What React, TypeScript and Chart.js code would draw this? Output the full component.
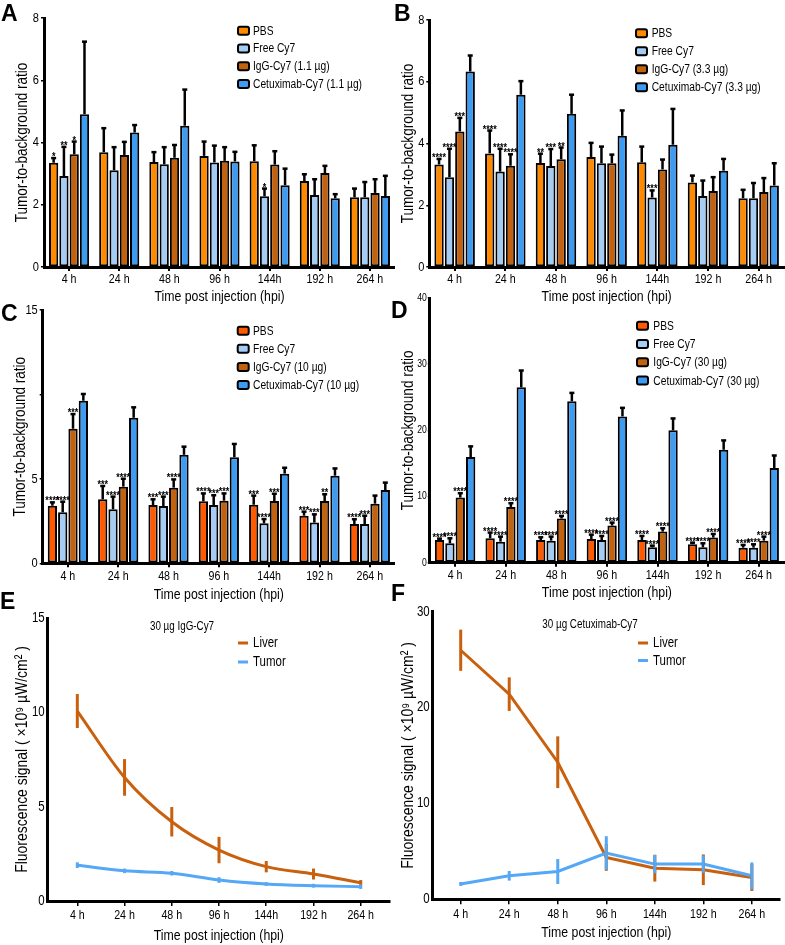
import React, { useEffect, useRef } from "react";
import { Chart, registerables } from "chart.js";

Chart.register(...registerables);

const FONT = "'Liberation Sans', Arial, sans-serif";
const TEXT_SX = 0.82; // horizontal condensing of all chart text (narrow-face look)

// ---------- shared labels ----------
const timeLabels = ["4 h", "24 h", "48 h", "96 h", "144h", "192 h", "264 h"];
const xTitle = "Time post injection (hpi)";
const barYTitle = "Tumor-to-background ratio";
const lineYTitle = "Fluorescence signal ( ×10⁹ µW/cm² )";

// ---------- Panel A (1.1 µg) ----------
const aNames = ["PBS", "Free Cy7", "IgG-Cy7 (1.1 µg)", "Cetuximab-Cy7 (1.1 µg)"];
const aPBS = [3.35, 3.69, 3.37, 3.57, 3.4, 2.76, 2.24];
const aPBSErr = [0.15, 0.77, 0.32, 0.46, 0.51, 0.22, 0.28];
const aFree = [2.92, 3.11, 3.3, 3.36, 2.27, 2.31, 2.24];
const aFreeErr = [0.94, 0.74, 0.55, 0.54, 0.25, 0.51, 0.49];
const aIgG = [3.62, 3.6, 3.51, 3.41, 3.29, 3.02, 2.38];
const aIgGErr = [0.41, 0.42, 0.41, 0.44, 0.43, 0.23, 0.44];
const aCet = [4.91, 4.32, 4.54, 3.39, 2.63, 2.21, 2.28];
const aCetErr = [2.33, 0.24, 1.16, 0.31, 0.53, 0.13, 0.65];
const aPBSStars = ["*", "", "", "", "", "", ""];
const aFreeStars = ["**", "", "", "", "*", "", ""];
const aIgGStars = ["*", "", "", "", "", "", ""];
const aYTicks = [0, 2, 4, 6, 8];

// ---------- Panel B (3.3 µg) ----------
const bNames = ["PBS", "Free Cy7", "IgG-Cy7 (3.3 µg)", "Cetuximab-Cy7 (3.3 µg)"];
const bPBS = [3.32, 3.68, 3.37, 3.56, 3.39, 2.74, 2.23];
const bPBSErr = [0.18, 0.74, 0.3, 0.46, 0.51, 0.22, 0.27];
const bFree = [2.91, 3.09, 3.27, 3.36, 2.25, 2.3, 2.23];
const bFreeErr = [0.92, 0.74, 0.55, 0.54, 0.23, 0.5, 0.49];
const bIgG = [4.39, 3.28, 3.49, 3.36, 3.16, 2.46, 2.43];
const bIgGErr = [0.44, 0.37, 0.38, 0.28, 0.32, 0.45, 0.45];
const bCet = [6.33, 5.58, 4.96, 4.25, 3.96, 3.12, 2.64];
const bCetErr = [0.52, 0.44, 0.62, 0.82, 1.16, 0.38, 0.72];
const bPBSStars = ["****", "****", "**", "", "", "", ""];
const bFreeStars = ["****", "****", "***", "", "***", "", ""];
const bIgGStars = ["***", "****", "**", "", "", "", ""];
const bYTicks = [0, 2, 4, 6, 8];

// ---------- Panel C (10 µg) ----------
const cNames = ["PBS", "Free Cy7", "IgG-Cy7 (10 µg)", "Cetuximab-Cy7 (10 µg)"];
const cPBS = [3.41, 3.79, 3.45, 3.67, 3.47, 2.82, 2.33];
const cPBSErr = [0.2, 0.79, 0.34, 0.47, 0.54, 0.24, 0.28];
const cFree = [3.02, 3.2, 3.39, 3.45, 2.37, 2.41, 2.33];
const cFreeErr = [0.63, 0.75, 0.56, 0.58, 0.25, 0.49, 0.49];
const cIgG = [7.97, 4.54, 4.48, 3.71, 3.69, 3.69, 3.53];
const cIgGErr = [0.87, 0.47, 0.49, 0.43, 0.43, 0.4, 0.48];
const cCet = [9.63, 8.62, 6.43, 6.28, 5.31, 5.19, 4.34];
const cCetErr = [0.4, 0.62, 0.48, 0.79, 0.35, 0.43, 0.44];
const cPBSStars = ["****", "***", "***", "****", "***", "***", "****"];
const cFreeStars = ["****", "****", "***", "***", "****", "***", "***"];
const cIgGStars = ["***", "****", "****", "***", "***", "**", ""];
const cYTicks = [0, 5, 10, 15];
const cYTickLabels = ["0", "5", "", "15"];

// ---------- Panel D (30 µg) ----------
const dNames = ["PBS", "Free Cy7", "IgG-Cy7 (30 µg)", "Cetuximab-Cy7 (30 µg)"];
const dPBS = [3.43, 3.69, 3.43, 3.59, 3.43, 2.78, 2.27];
const dPBSErr = [0.21, 0.86, 0.41, 0.65, 0.61, 0.25, 0.41];
const dFree = [2.93, 3.18, 3.33, 3.43, 2.32, 2.32, 2.27];
const dFreeErr = [0.76, 0.76, 0.61, 0.61, 0.26, 0.61, 0.51];
const dIgG = [9.85, 8.43, 6.67, 5.61, 4.7, 3.79, 3.33];
const dIgGErr = [0.65, 0.56, 0.4, 0.45, 0.5, 0.55, 0.61];
const dCet = [15.96, 26.5, 24.4, 22.1, 20.0, 17.07, 14.3];
const dCetErr = [1.62, 2.54, 1.26, 1.3, 1.8, 1.41, 1.9];
const dPBSStars = ["****", "****", "****", "****", "****", "****", "****"];
const dFreeStars = ["****", "****", "****", "****", "****", "****", "****"];
const dIgGStars = ["****", "****", "****", "****", "****", "****", "****"];
const dYTicks = [0, 10, 20, 30, 40];

// ---------- Panel E (30 µg IgG-Cy7) ----------
const eTitle = "30 µg IgG-Cy7";
const eLiver = [10.07, 6.55, 4.2, 2.7, 1.82, 1.43, 0.97];
const eLiverErr = [0.9, 0.97, 0.78, 0.7, 0.3, 0.29, 0.14];
const eTumor = [1.9, 1.6, 1.47, 1.11, 0.9, 0.81, 0.76];
const eTumorErr = [0.15, 0.12, 0.12, 0.15, 0.1, 0.1, 0.12];
const eYTicks = [0, 5, 10, 15];

// ---------- Panel F (30 µg Cetuximab-Cy7) ----------
const fTitle = "30 µg Cetuximab-Cy7";
const fLiver = [25.98, 21.4, 14.3, 4.37, 3.25, 3.08, 2.27];
const fLiverErr = [2.15, 1.75, 2.7, 1.4, 1.4, 1.6, 1.4];
const fTumor = [1.6, 2.45, 2.9, 4.83, 3.67, 3.67, 2.45];
const fTumorErr = [0.2, 0.5, 1.3, 1.75, 0.95, 0.9, 1.4];
const fYTicks = [0, 10, 20, 30];

const lineNames = ["Liver", "Tumor"];

// ---------- colours ----------
const COL_PBS_AB = "#FF8A00";
const COL_PBS_CD = "#FF5A00";
const COL_FREE = "#A4CCF4";
const COL_IGG = "#C2620E";
const COL_CET = "#3E9BF2";
const COL_LIVER = "#C8600E";
const COL_TUMOR = "#55A8F5";

// ---------- plugin: error bars, stars, legend, subtitle ----------
const decorPlugin = {
  id: "decor",
  afterDatasetsDraw(chart: any) {
    const ctx = chart.ctx;
    const yScale = chart.scales.y;
    chart.data.datasets.forEach((ds: any, di: number) => {
      if (!ds.errors) return;
      const meta = chart.getDatasetMeta(di);
      ctx.save();
      ctx.strokeStyle = ds.errorColor || "#000";
      ctx.lineWidth = ds.errorWidth || 2.5;
      ctx.lineCap = "butt";
      meta.data.forEach((el: any, i: number) => {
        const raw = ds.data[i];
        const v = typeof raw === "number" ? raw : raw.y;
        const e = ds.errors[i];
        const x = el.x;
        const yTop = yScale.getPixelForValue(v + e);
        const yBase = ds.errorBoth ? yScale.getPixelForValue(v - e) : el.y;
        ctx.beginPath();
        ctx.moveTo(x, yBase);
        ctx.lineTo(x, yTop);
        ctx.stroke();
        if (ds.errorCap) {
          ctx.beginPath();
          ctx.moveTo(x - ds.errorCap, yTop);
          ctx.lineTo(x + ds.errorCap, yTop);
          ctx.stroke();
        }
        if (ds.stars && ds.stars[i]) {
          ctx.fillStyle = "#000";
          ctx.font = `bold 11px ${FONT}`;
          ctx.textAlign = "center";
          ctx.textBaseline = "alphabetic";
          ctx.fillText(ds.stars[i], x, yTop + 2);
        }
      });
      ctx.restore();
    });
  },
  afterDraw(chart: any) {
    const o = chart.options.plugins.decor || {};
    const ctx = chart.ctx;
    ctx.save();
    if (o.legend) {
      const L = o.legend;
      ctx.font = `${L.size}px ${FONT}`;
      ctx.textAlign = "left";
      ctx.textBaseline = "middle";
      chart.data.datasets.forEach((ds: any, i: number) => {
        const yy = L.y + i * L.dy;
        if (L.kind === "box") {
          ctx.fillStyle = ds.backgroundColor;
          ctx.strokeStyle = "#000";
          ctx.lineWidth = 2;
          ctx.beginPath();
          ctx.roundRect(L.x + 1, yy - 4, 11, 8, 2);
          ctx.fill();
          ctx.stroke();
        } else {
          ctx.strokeStyle = ds.borderColor;
          ctx.lineWidth = 3;
          ctx.beginPath();
          ctx.moveTo(L.x, yy);
          ctx.lineTo(L.x + 10, yy);
          ctx.stroke();
        }
        ctx.fillStyle = "#000";
        ctx.fillText(ds.label, L.tx, yy + 0.5);
      });
    }
    if (o.subtitle) {
      const S = o.subtitle;
      ctx.font = `${S.size}px ${FONT}`;
      ctx.fillStyle = "#000";
      ctx.textAlign = "center";
      ctx.textBaseline = "middle";
      ctx.fillText(S.text, S.x, S.y);
    }
    ctx.restore();
  },
};

type Geo = {
  yW: number;
  xH: number;
  padTop: number;
  padRight: number;
  yTitlePad: number;
  xTitlePad: number;
  yTickSize?: number;
  yTickLen?: number;
  yTickPad?: number;
};

function axisCommon() {
  return {
    border: { display: true, color: "#000", width: 3 },
  };
}

function barConfig(
  names: string[],
  vals: number[][],
  errs: number[][],
  stars: string[][],
  colors: string[],
  yTicks: number[],
  yTickLabels: string[] | null,
  geo: Geo,
  legend: any
) {
  const datasets = names.map((n, i) => ({
    label: n,
    data: vals[i],
    errors: errs[i],
    stars: stars[i] || null,
    errorCap: 2.5,
    errorWidth: 2.5,
    backgroundColor: colors[i],
    borderColor: "#000",
    borderWidth: 2,
    borderSkipped: false,
    categoryPercentage: 0.82,
    barPercentage: 0.9,
  }));
  return {
    type: "bar",
    data: { labels: timeLabels, datasets },
    plugins: [decorPlugin],
    options: {
      responsive: false,
      animation: false,
      events: [],
      layout: { padding: { top: geo.padTop, right: geo.padRight, left: 0, bottom: 0 } },
      plugins: {
        legend: { display: false },
        tooltip: { enabled: false },
        decor: { legend },
      },
      scales: {
        x: {
          ...axisCommon(),
          offset: true,
          grid: {
            display: true,
            drawOnChartArea: false,
            drawTicks: true,
            tickLength: 4,
            offset: false,
            color: "#000",
            lineWidth: 2,
          },
          ticks: { color: "#000", font: { family: FONT, size: 13 }, padding: 1, maxRotation: 0, autoSkip: false },
          title: {
            display: true,
            text: xTitle,
            color: "#000",
            font: { family: FONT, size: 15 },
            padding: { top: 0, bottom: geo.xTitlePad },
          },
          afterFit: (s: any) => {
            s.height = geo.xH;
          },
        },
        y: {
          ...axisCommon(),
          min: yTicks[0],
          max: yTicks[yTicks.length - 1],
          afterBuildTicks: (axis: any) => {
            axis.ticks = yTicks.map((v) => ({ value: v }));
          },
          grid: {
            display: true,
            drawOnChartArea: false,
            drawTicks: true,
            tickLength: geo.yTickLen ?? 3,
            color: "#000",
            lineWidth: 1.5,
          },
          ticks: {
            color: "#000",
            font: { family: FONT, size: geo.yTickSize || 13.5 },
            padding: geo.yTickPad ?? 2,
            callback: (v: any, i: number) => (yTickLabels ? yTickLabels[i] : String(v)),
          },
          title: {
            display: true,
            text: barYTitle,
            color: "#000",
            font: { family: FONT, size: 16.5 },
            padding: { top: geo.yTitlePad, bottom: 0 },
          },
          afterFit: (s: any) => {
            s.width = geo.yW;
          },
        },
      },
    },
  };
}

function lineConfig(
  vals: number[][],
  errs: number[][],
  yTicks: number[],
  xMin: number,
  xMax: number,
  smooth: boolean,
  geo: Geo,
  legend: any,
  subtitle: any
) {
  const colors = [COL_LIVER, COL_TUMOR];
  const datasets = lineNames.map((n, i) => ({
    label: n,
    data: timeLabels.map((_, k) => ({ x: k, y: vals[i][k] })),
    errors: errs[i],
    errorBoth: true,
    errorColor: colors[i],
    errorWidth: 3,
    borderColor: colors[i],
    backgroundColor: colors[i],
    borderWidth: 3,
    pointRadius: 0,
    fill: false,
    order: i === 0 ? 1 : 0,
    cubicInterpolationMode: smooth ? "monotone" : "default",
    tension: 0,
  }));
  return {
    type: "line",
    data: { datasets },
    plugins: [decorPlugin],
    options: {
      responsive: false,
      animation: false,
      events: [],
      layout: { padding: { top: geo.padTop, right: geo.padRight, left: 0, bottom: 0 } },
      plugins: {
        legend: { display: false },
        tooltip: { enabled: false },
        decor: { legend, subtitle },
      },
      scales: {
        x: {
          ...axisCommon(),
          type: "linear",
          min: xMin,
          max: xMax,
          afterBuildTicks: (axis: any) => {
            axis.ticks = timeLabels.map((_, k) => ({ value: k }));
          },
          grid: {
            display: true,
            drawOnChartArea: false,
            drawTicks: true,
            tickLength: 5,
            color: "#000",
            lineWidth: 1.5,
          },
          ticks: {
            color: "#000",
            font: { family: FONT, size: 13 },
            padding: 2,
            maxRotation: 0,
            autoSkip: false,
            callback: (_v: any, i: number) => timeLabels[i],
          },
          title: {
            display: true,
            text: xTitle,
            color: "#000",
            font: { family: FONT, size: 15 },
            padding: { top: 0, bottom: geo.xTitlePad },
          },
          afterFit: (s: any) => {
            s.height = geo.xH;
          },
        },
        y: {
          ...axisCommon(),
          min: yTicks[0],
          max: yTicks[yTicks.length - 1],
          afterBuildTicks: (axis: any) => {
            axis.ticks = yTicks.map((v) => ({ value: v }));
          },
          grid: { display: false, drawTicks: false },
          ticks: { color: "#000", font: { family: FONT, size: 14 }, padding: 3 },
          title: {
            display: true,
            text: lineYTitle,
            color: "#000",
            font: { family: FONT, size: 17 },
            padding: { top: geo.yTitlePad, bottom: 0 },
          },
          afterFit: (s: any) => {
            s.width = geo.yW;
          },
        },
      },
    },
  };
}

function Panel({ config, left, top, width, height }: any) {
  const ref = useRef<HTMLCanvasElement>(null);
  useEffect(() => {
    const canvas = ref.current as HTMLCanvasElement;
    const ctx: any = canvas.getContext("2d");
    // condense text horizontally around its anchor point (keeps alignment)
    const proto = CanvasRenderingContext2D.prototype;
    ctx.fillText = function (text: string, x: number, y: number, maxWidth?: number) {
      this.save();
      this.translate(x, y);
      this.scale(TEXT_SX, 1);
      if (maxWidth === undefined) proto.fillText.call(this, text, 0, 0);
      else proto.fillText.call(this, text, 0, 0, maxWidth / TEXT_SX);
      this.restore();
    };
    const chart = new Chart(canvas, config);
    return () => chart.destroy();
  }, []);
  return (
    <canvas
      ref={ref}
      width={width}
      height={height}
      style={{ position: "absolute", left, top, width, height }}
    />
  );
}

function Letter({ ch, left, top }: any) {
  return (
    <div
      style={{
        position: "absolute",
        left,
        top,
        font: "bold 23px 'Liberation Sans', Arial, sans-serif",
        lineHeight: 1,
        color: "#000",
      }}
    >
      {ch}
    </div>
  );
}

export default function App() {
  const cfgA = barConfig(
    aNames,
    [aPBS, aFree, aIgG, aCet],
    [aPBSErr, aFreeErr, aIgGErr, aCetErr],
    [aPBSStars, aFreeStars, aIgGStars, []],
    [COL_PBS_AB, COL_FREE, COL_IGG, COL_CET],
    aYTicks,
    null,
    { yW: 44, xH: 39, padTop: 18, padRight: 0, yTitlePad: 12.3, xTitlePad: 0 },
    { kind: "box", x: 237, tx: 253, y: 30.7, dy: 17.8, size: 12.5 }
  );
  const cfgB = barConfig(
    bNames,
    [bPBS, bFree, bIgG, bCet],
    [bPBSErr, bFreeErr, bIgGErr, bCetErr],
    [bPBSStars, bFreeStars, bIgGStars, []],
    [COL_PBS_AB, COL_FREE, COL_IGG, COL_CET],
    bYTicks,
    null,
    { yW: 39.3, xH: 39, padTop: 20, padRight: 1, yTitlePad: 8.3, xTitlePad: 0 },
    { kind: "box", x: 245, tx: 261.7, y: 33.3, dy: 18, size: 12.5 }
  );
  const cfgC = barConfig(
    cNames,
    [cPBS, cFree, cIgG, cCet],
    [cPBSErr, cFreeErr, cIgGErr, cCetErr],
    [cPBSStars, cFreeStars, cIgGStars, []],
    [COL_PBS_CD, COL_FREE, COL_IGG, COL_CET],
    cYTicks,
    cYTickLabels,
    { yW: 42.7, xH: 42.7, padTop: 10, padRight: 0, yTitlePad: 11, xTitlePad: 2 },
    { kind: "box", x: 236.7, tx: 253, y: 30.7, dy: 18.1, size: 12.5 }
  );
  const cfgD = barConfig(
    dNames,
    [dPBS, dFree, dIgG, dCet],
    [dPBSErr, dFreeErr, dIgGErr, dCetErr],
    [dPBSStars, dFreeStars, dIgGStars, []],
    [COL_PBS_CD, COL_FREE, COL_IGG, COL_CET],
    dYTicks,
    null,
    {
      yW: 39.8,
      xH: 43.3,
      padTop: 8,
      padRight: 1,
      yTitlePad: 8.8,
      xTitlePad: 4,
      yTickSize: 10.5,
      yTickLen: 2,
      yTickPad: 1,
    },
    { kind: "box", x: 246, tx: 263.3, y: 35.7, dy: 18.3, size: 12.5 }
  );
  const cfgE = lineConfig(
    [eLiver, eTumor],
    [eLiverErr, eTumorErr],
    eYTicks,
    -0.627,
    6.62,
    true,
    { yW: 47.7, xH: 44, padTop: 18, padRight: 5, yTitlePad: 12.5, xTitlePad: 0 },
    { kind: "line", x: 238, tx: 253, y: 43, dy: 19, size: 14 },
    { text: eTitle, x: 182, y: 27, size: 12 }
  );
  const cfgF = lineConfig(
    [fLiver, fTumor],
    [fLiverErr, fTumorErr],
    fYTicks,
    -0.577,
    6.58,
    false,
    { yW: 42.7, xH: 45.7, padTop: 11.7, padRight: 5, yTitlePad: 8.3, xTitlePad: 3 },
    { kind: "line", x: 248, tx: 263, y: 43, dy: 17.5, size: 14 },
    { text: fTitle, x: 200, y: 25, size: 12 }
  );

  return (
    <div style={{ position: "absolute", left: 0, top: 0, width: 785, height: 945, background: "#fff" }}>
      <Panel config={cfgA} left={0} top={0} width={395} height={306} />
      <Panel config={cfgB} left={390} top={0} width={395} height={306} />
      <Panel config={cfgC} left={0} top={300} width={395} height={306} />
      <Panel config={cfgD} left={390} top={290} width={395} height={316} />
      <Panel config={cfgE} left={0} top={600} width={395} height={345} />
      <Panel config={cfgF} left={390} top={600} width={395} height={345} />
      <Letter ch="A" left={1} top={2} />
      <Letter ch="B" left={394} top={2} />
      <Letter ch="C" left={1} top={302} />
      <Letter ch="D" left={391} top={299} />
      <Letter ch="E" left={0} top={590} />
      <Letter ch="F" left={391} top={582} />
    </div>
  );
}
